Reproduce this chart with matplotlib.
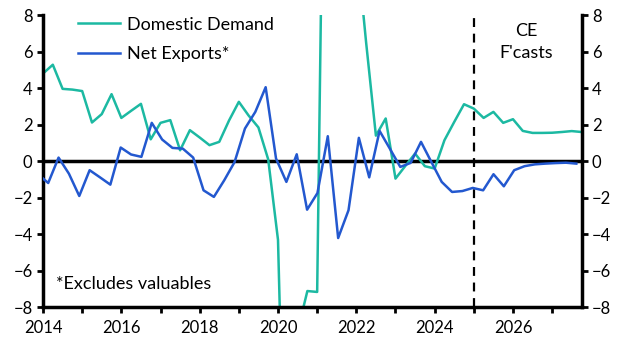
import numpy as np
import matplotlib.pyplot as plt

plt.rcParams['font.family'] = ['Lato', 'DejaVu Sans']

# Domestic demand, quarterly from 2014Q1 (% pts)
dd_vals = [4.8, 5.28, 3.96, 3.92, 3.84, 2.12, 2.58, 3.67,
           2.37, 2.76, 3.14, 1.2, 2.1, 2.25, 0.6, 1.7,
           1.3, 0.88, 1.06, 2.23, 3.25, 2.5, 1.85, 0.1,
           -4.3, -25.0, -9.3, -7.1, -7.15, 33.0, 15.0, 12.0,
           12.0, 6.5, 1.4, 2.34, -0.95, -0.26, 0.42, -0.27,
           -0.4, 1.15, 2.15, 3.12, 2.88, 2.37, 2.7, 2.1,
           2.3, 1.66, 1.55, 1.55, 1.56, 1.6, 1.65, 1.6]
dd_years = 2014 + np.arange(len(dd_vals)) / 4

# Net exports, drawn on its own category axis (first value sits off the left edge)
ne_vals = [-0.7, -1.19, 0.2, -0.68, -1.9, -0.49, -0.88, -1.28, 0.75,
           0.37, 0.24, 2.1, 1.19, 0.73, 0.69, 0.2, -1.59,
           -1.95, -1.04, -0.04, 1.79, 2.7, 4.05, 0.15, -1.13,
           0.38, -2.65, -1.74, 1.37, -4.2, -2.68, 1.28, -0.88,
           1.66, 0.68, -0.31, -0.09, 1.06, -0.04, -1.13, -1.68,
           -1.63, -1.46, -1.59, -0.71, -1.37, -0.49, -0.27, -0.17,
           -0.13, -0.1, -0.08, -0.13]
ne_pos = np.arange(len(ne_vals)) - 1

yticks = [-8, -6, -4, -2, 0, 2, 4, 6, 8]
xticks = list(range(2014, 2028))
xlabels = [str(y) if y % 2 == 0 else "" for y in xticks]

teal = "#1cb9a2"
blue = "#2358cf"

fig = plt.figure(figsize=(6.29, 3.54), dpi=100)
ax = fig.add_axes([0.0684, 0.1314, 0.8561, 0.8262])

l1, = ax.plot(dd_years, dd_vals, color=teal, lw=1.8, label="Domestic Demand")
ax.axhline(0, color="black", lw=2.5, zorder=1)
ax.axvline(2025, color="black", lw=1.6, ls=(0, (4, 3)))

ax.set_xlim(2014, 2027.75)
ax.set_ylim(-8, 8)
ax.set_xticks(xticks)
ax.set_xticklabels(xlabels)
ax.set_yticks(yticks)
ax.tick_params(axis="both", direction="out", length=4, width=2, labelsize=12,
               right=True, labelright=True)
ax.tick_params(axis="x", pad=5)

for s in ["left", "right", "bottom"]:
    ax.spines[s].set_linewidth(2.5)
ax.spines["top"].set_visible(False)

axb = ax.twiny()
l2, = axb.plot(ne_pos, ne_vals, color=blue, lw=1.8, label="Net Exports*")
axb.set_xlim(-0.5, len(ne_vals) - 1.5)
axb.set_xticks([])
for s in axb.spines.values():
    s.set_visible(False)

ax.legend(handles=[l1, l2], loc="upper left", bbox_to_anchor=(0.035, 1.05),
          frameon=False, fontsize=13, handlelength=2.3, handletextpad=0.4,
          labelspacing=0.75)

ax.text(0.898, 0.972, "CE\nF'casts", transform=ax.transAxes, ha="center",
        va="top", fontsize=13, linespacing=1.45)
ax.text(0.025, 0.08, "*Excludes valuables", transform=ax.transAxes,
        ha="left", va="center", fontsize=13)

fig.savefig("out.png", dpi=100)
